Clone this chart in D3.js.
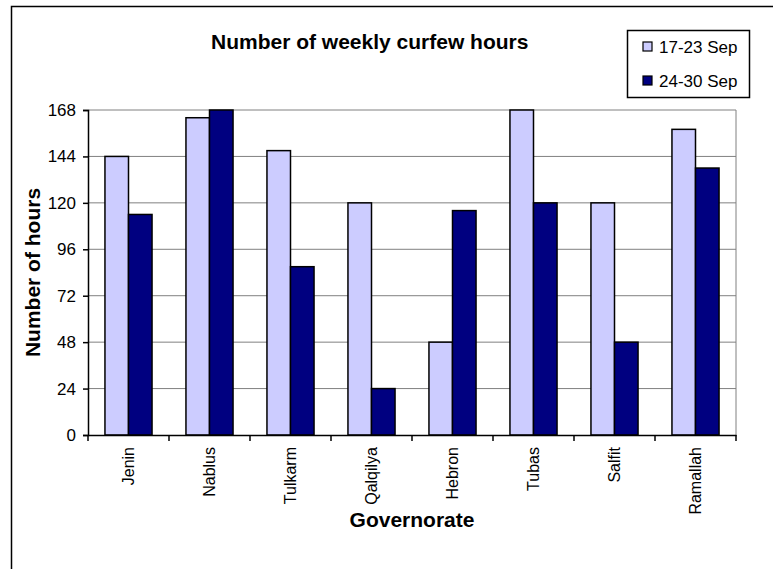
<!DOCTYPE html>
<html>
<head>
<meta charset="utf-8">
<script src="https://cdn.jsdelivr.net/npm/d3@7"></script>
<style>
  body { margin: 0; background: #fff; }
  text { font-family: "Liberation Sans", Arial, sans-serif; }
</style>
</head>
<body>
<script>
var governorates = ["Jenin", "Nablus", "Tulkarm", "Qalqilya", "Hebron", "Tubas", "Salfit", "Ramallah"];
var series = ["17-23 Sep", "24-30 Sep"];
var sep17 = [144, 164, 147, 120, 48, 168, 120, 158];
var sep24 = [114, 168, 87, 24, 116, 120, 48, 138];
var yTicks = [0, 24, 48, 72, 96, 120, 144, 168];
var colors = ["#ccccff", "#000080"];

var width = 773, height = 569;
var margin = {top: 110, right: 37, bottom: 134, left: 88};

var svg = d3.select("body").append("svg")
            .attr("width", width)
            .attr("height", height);

// outer chart border
svg.append("rect")
   .attr("x", 11.5).attr("y", 6.5)
   .attr("width", width).attr("height", height)
   .attr("fill", "none").attr("stroke", "#000").attr("stroke-width", 1.5);

var x = d3.scaleBand()
          .domain(governorates)
          .range([margin.left, width - margin.right]);

var x1 = d3.scaleBand()
           .domain(series)
           .range([0, x.bandwidth()])
           .paddingInner(0)
           .paddingOuter(0.72);

var y = d3.scaleLinear()
          .domain([0, 168])
          .range([height - margin.bottom, margin.top]);

var g = svg.append("g");

// gridlines
g.selectAll(".grid")
 .data(yTicks.slice(1)).enter()
 .append("line")
 .attr("x1", margin.left).attr("x2", width - margin.right)
 .attr("y1", d => y(d)).attr("y2", d => y(d))
 .attr("stroke", "#808080").attr("stroke-width", 1);

// right plot border
g.append("line")
 .attr("x1", width - margin.right).attr("x2", width - margin.right)
 .attr("y1", y(168)).attr("y2", y(0))
 .attr("stroke", "#808080");

var rows = governorates.map((name, i) => ({name: name, vals: [sep17[i], sep24[i]]}));

g.selectAll(".grp")
 .data(rows).enter()
 .append("g")
 .attr("transform", d => "translate(" + x(d.name) + ",0)")
 .selectAll("rect")
 .data(d => d.vals.map((v, j) => ({key: series[j], v: v, j: j}))).enter()
 .append("rect")
 .attr("x", d => x1(d.key))
 .attr("width", x1.bandwidth())
 .attr("y", d => y(d.v))
 .attr("height", d => y(0) - y(d.v))
 .attr("fill", d => colors[d.j])
 .attr("stroke", "#000").attr("stroke-width", 1.5);

var yAxis = d3.axisLeft(y).tickValues(yTicks).tickSize(5).tickPadding(7);
var yg = svg.append("g")
   .attr("transform", "translate(" + margin.left + ",0)")
   .call(yAxis);
yg.selectAll("text").attr("font-size", 17).attr("fill", "#000");
yg.selectAll("line, path").attr("stroke", "#000").attr("stroke-width", 1.5);

var xAxis = d3.axisBottom(x).tickSize(0).tickPadding(0);
var xg = svg.append("g")
   .attr("transform", "translate(0," + y(0) + ")")
   .call(xAxis);
xg.select(".domain").attr("stroke", "#000").attr("stroke-width", 1.5);
xg.selectAll("text")
  .attr("font-size", 16).attr("fill", "#000")
  .attr("transform", "rotate(-90)")
  .attr("text-anchor", "end")
  .attr("x", -12).attr("y", 0).attr("dy", "0.35em");

// category separator ticks
xg.selectAll(".sep")
  .data(governorates.concat(["end"])).enter()
  .append("line")
  .attr("x1", (d, i) => margin.left + i * x.bandwidth())
  .attr("x2", (d, i) => margin.left + i * x.bandwidth())
  .attr("y1", 0).attr("y2", 6)
  .attr("stroke", "#000").attr("stroke-width", 1.5);

// title
svg.append("text")
   .attr("x", 211).attr("y", 49)
   .attr("font-size", 21).attr("font-weight", "bold")
   .text("Number of weekly curfew hours");

svg.append("text")
   .attr("transform", "translate(40," + (y(84)) + ") rotate(-90)")
   .attr("text-anchor", "middle")
   .attr("font-size", 21).attr("font-weight", "bold")
   .text("Number of hours");

svg.append("text")
   .attr("x", 412).attr("y", 527)
   .attr("text-anchor", "middle")
   .attr("font-size", 21).attr("font-weight", "bold")
   .text("Governorate");

// legend
var lg = svg.append("g");
lg.append("rect")
  .attr("x", 627.5).attr("y", 30.5).attr("width", 122).attr("height", 67)
  .attr("fill", "#fff").attr("stroke", "#000").attr("stroke-width", 1.5);
var item = lg.selectAll(".item")
  .data(series).enter()
  .append("g")
  .attr("transform", (d, i) => "translate(643," + (47 + i * 34) + ")");
item.append("rect")
  .attr("x", 0).attr("y", -5).attr("width", 9).attr("height", 9)
  .attr("fill", (d, i) => colors[i]).attr("stroke", "#000").attr("stroke-width", 1.2);
item.append("text")
  .attr("x", 16).attr("y", 0).attr("dy", "0.35em")
  .attr("font-size", 17)
  .text(d => d);
</script>
</body>
</html>
